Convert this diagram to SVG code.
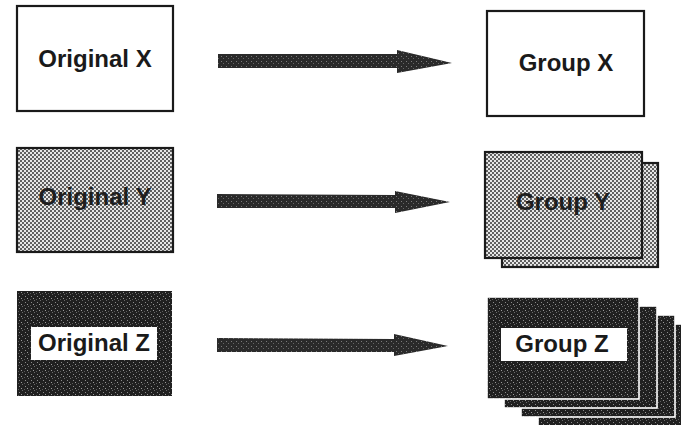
<svg xmlns="http://www.w3.org/2000/svg" width="681" height="425" viewBox="0 0 681 425">
  <defs>
    <pattern id="dots" width="4" height="4" patternUnits="userSpaceOnUse">
      <rect width="4" height="4" fill="#e6e6e6"/>
      <circle cx="1" cy="1" r="0.95" fill="#262626"/>
      <circle cx="3" cy="3" r="0.95" fill="#262626"/>
    </pattern>
    <pattern id="dark" width="6" height="6" patternUnits="userSpaceOnUse">
      <rect width="6" height="6" fill="#202020"/>
      <rect x="1" y="2" width="1" height="1" fill="#8a8a8a"/>
      <rect x="4" y="0" width="1" height="1" fill="#6a6a6a"/>
      <rect x="3" y="4" width="1" height="1" fill="#9a9a9a"/>
      <rect x="0" y="5" width="1" height="1" fill="#5a5a5a"/>
    </pattern>
    <pattern id="arrowfill" width="5" height="5" patternUnits="userSpaceOnUse">
      <rect width="5" height="5" fill="#2a2a2a"/>
      <rect x="1" y="1" width="1" height="1" fill="#7a7a7a"/>
      <rect x="3" y="3" width="1" height="1" fill="#666"/>
    </pattern>
  </defs>
  <style>
    .lbl { font-family: "Liberation Sans", Arial, sans-serif; font-weight: bold; font-size: 24px; text-anchor: middle; }
    .lx { fill: #1a1a1a; }
    .ly { fill: #1e1e1e; }
    .lz { fill: #1a1a1a; }
    .bx { fill: #ffffff; stroke: #1a1a1a; stroke-width: 2.2; }
    .by { fill: url(#dots); stroke: #1a1a1a; stroke-width: 2.2; }
    .bz { fill: url(#dark); stroke: #ffffff; stroke-width: 1.6; }
    .white { fill: #ffffff; }
    .arrow { fill: url(#arrowfill); }
  </style>
  <rect width="681" height="425" fill="#ffffff"/>

  <g id="original-x">
    <rect class="bx" x="17" y="6" width="156" height="105"/>
    <text class="lbl lx" x="95" y="67">Original X</text>
  </g>
  <g id="group-x">
    <rect class="bx" x="487" y="11" width="157" height="105"/>
    <text class="lbl lx" x="566" y="71">Group X</text>
  </g>

  <g id="original-y">
    <rect class="by" x="17" y="148" width="156" height="104"/>
    <text class="lbl ly" x="95" y="205">Original Y</text>
  </g>
  <g id="group-y">
    <rect class="by" x="502" y="163" width="156" height="104"/>
    <rect class="by" x="485" y="152" width="157" height="106"/>
    <text class="lbl ly" x="563" y="210">Group Y</text>
  </g>

  <g id="original-z">
    <rect x="17" y="291" width="155" height="105" fill="url(#dark)"/>
    <rect class="white" x="31" y="327" width="126" height="33"/>
    <text class="lbl lz" x="94" y="351">Original Z</text>
  </g>
  <g id="group-z">
    <rect class="bz" x="538" y="324" width="156" height="104"/>
    <rect class="bz" x="521" y="315" width="154" height="102"/>
    <rect class="bz" x="504" y="306" width="153" height="102"/>
    <rect class="bz" x="487" y="297" width="152" height="102"/>
    <rect class="white" x="501" y="328" width="126" height="33"/>
    <text class="lbl lz" x="562" y="352">Group Z</text>
  </g>

  <g id="connectors">
    <polygon class="arrow" points="218,54 397,54 397,50 452,63 397,73 397,68 218,68"/>
    <polygon class="arrow" points="217,194 395,195 395,191 450,202 395,213 395,208 217,208"/>
    <polygon class="arrow" points="217,338 394,339 394,334 448,346 394,356 394,352 217,352"/>
  </g>
</svg>
